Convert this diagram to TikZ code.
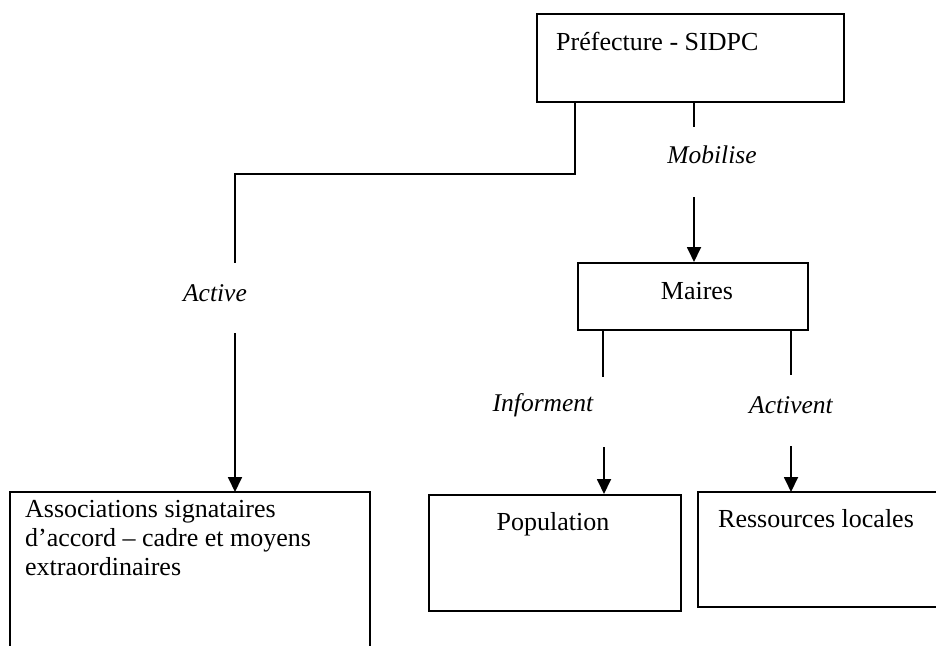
\documentclass[tikz,border=0pt]{standalone}
\usepackage{fontspec}
\setmainfont{Liberation Serif}
\usetikzlibrary{arrows.meta}
\begin{document}
\begin{tikzpicture}[x=1pt,y=-1pt,
  boxline/.style={draw, line width=2pt, inner sep=0pt},
  link/.style={line width=1.8pt},
  arrowlink/.style={line width=1.8pt, -{Triangle[length=15pt,width=14pt]}},
  boxtext/.style={font=\fontsize{26}{29}\selectfont, inner sep=0pt},
  lbl/.style={font=\fontsize{25.5}{28}\selectfont\itshape, inner sep=0pt}]
\useasboundingbox (0,0) rectangle (936,645);

% boxes
\node[boxline, minimum width=307pt, minimum height=88pt, anchor=north west] (pref) at (536,13) {};
\node[boxline, minimum width=230pt, minimum height=67pt, anchor=north west] (maires) at (577,262) {};
\node[boxline, minimum width=252pt, minimum height=116pt, anchor=north west] (pop) at (428,494) {};
% open boxes (cut by the page edge)
\coordinate (assocTL) at (10,492);
\coordinate (assocTR) at (370,492);
\draw[line width=2pt] (10,648) -- (assocTL) -- (assocTR) -- (370,648);
\coordinate (resTL) at (698,492);
\coordinate (resBL) at (698,607);
\draw[line width=2pt] (940,492) -- (resTL) -- (resBL) -- (940,607);

% box texts
\node[boxtext, anchor=base west] (preft) at (556,50) {Préfecture - SIDPC};
\node[boxtext, anchor=base] (mairest) at (697,299) {Maires};
\node[boxtext, anchor=base] (popt) at (553,530) {Population};
\node[boxtext, anchor=base west] (rest) at (718,527) {Ressources locales};
\node[boxtext, anchor=north west, align=left] (assoct) at (25,500)
  {Associations signataires\\d’accord – cadre et moyens\\extraordinaires};

% labels
\node[lbl] (mob) at (712,155) {Mobilise};
\node[lbl] (act) at (215,293) {Active};
\node[lbl] (inf) at (543,405) {Informent};
\node[lbl] (actv) at (791,405) {Activent};

% connectors: Active
\coordinate (l1) at (575,174);
\coordinate (l2) at (235,174);
\coordinate (l3) at (235,263);
\coordinate (l4) at (235,333);
\coordinate (l5) at (235,492);
\draw[link] (pref.south -| l1) -- (l1) -- (l2) -- (l3);
\draw[arrowlink] (l4) -- (l5);

% Mobilise
\coordinate (m1) at (694,127);
\coordinate (m2) at (694,197);
\draw[link] (pref.south -| m1) -- (m1);
\draw[arrowlink] (m2) -- (maires.north -| m2);

% Informent
\coordinate (i1) at (603,377);
\coordinate (i2) at (604,447);
\draw[link] (maires.south -| i1) -- (i1);
\draw[arrowlink] (i2) -- (pop.north -| i2);

% Activent
\coordinate (v1) at (791,375);
\coordinate (v2) at (791,446);
\coordinate (v3) at (791,492);
\draw[link] (maires.south -| v1) -- (v1);
\draw[arrowlink] (v2) -- (v3);
\end{tikzpicture}
\end{document}
